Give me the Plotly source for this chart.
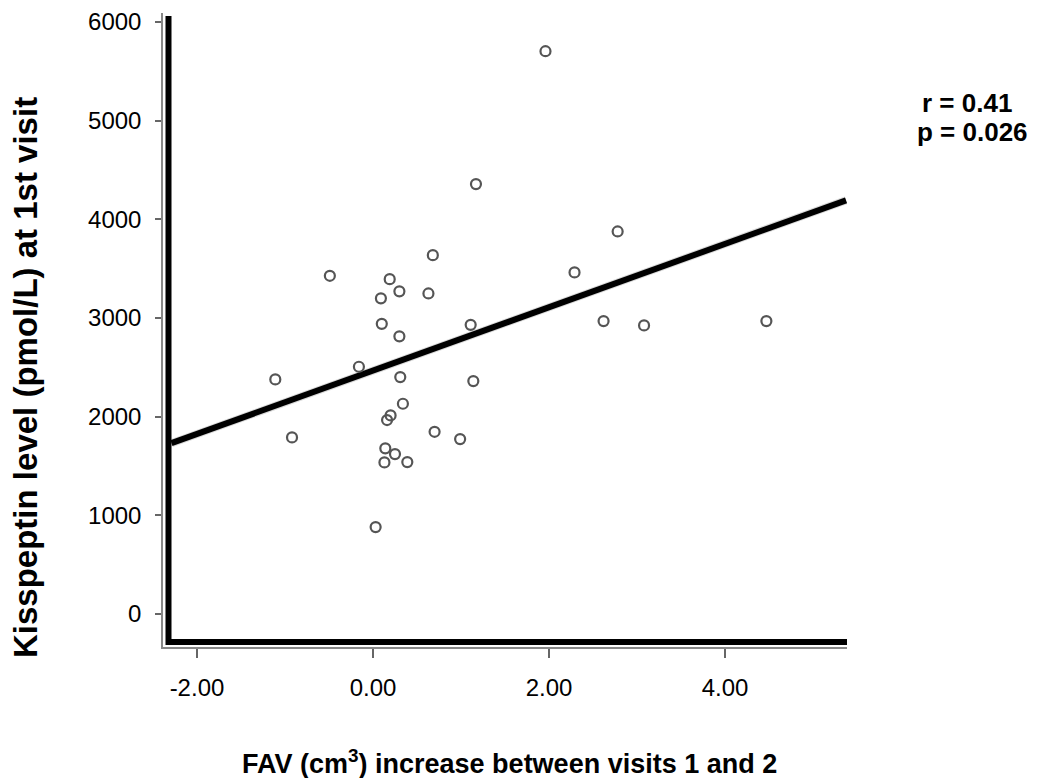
import plotly.graph_objects as go

# Data
fav_increase = [1.96, 1.17, 0.68, 2.78, -0.49, 0.19, 0.30, 0.09, 0.63, 0.10,
                0.30, 1.11, -0.16, -1.11, 0.31, 1.14, 0.34, 0.20, 0.16, -0.92,
                0.70, 0.99, 0.14, 0.25, 0.13, 0.39, 0.03, 2.29, 2.62, 3.08, 4.47]
kisspeptin = [5704, 4357, 3637, 3877, 3428, 3394, 3270, 3199, 3249, 2941,
              2814, 2931, 2506, 2378, 2401, 2361, 2131, 2013, 1966, 1790,
              1847, 1773, 1679, 1621, 1537, 1540, 881, 3462, 2969, 2925, 2969]

fit_intercept = 2467
fit_slope = 321
fit_x = [-2.29, 5.375]
fit_y = [fit_intercept + fit_slope * v for v in fit_x]

x_tickvals = [-2, 0, 2, 4]
x_ticktext = ["-2.00", "0.00", "2.00", "4.00"]
y_tickvals = [0, 1000, 2000, 3000, 4000, 5000, 6000]
y_ticktext = ["0", "1000", "2000", "3000", "4000", "5000", "6000"]

stats_r = "r = 0.41"
stats_p = "p = 0.026"
x_title = "FAV (cm<sup>3</sup>) increase between visits 1 and 2"
y_title = "Kisspeptin level (pmol/L) at 1st visit"

FONT = "Liberation Sans, Arial, Helvetica, sans-serif"

# page pixels of the plot area (page has an 8px body margin)
PL, PR, PT, PB = 163, 847, 13, 647
PW, PH = PR - PL, PB - PT


def px(xp):
    return (xp - PL) / PW


def py(yp):
    return (PB - yp) / PH


fig = go.Figure()

fig.add_trace(go.Scatter(x=fit_x, y=fit_y, mode="lines",
                         line=dict(color="rgba(0,0,0,0.15)", width=8),
                         hoverinfo="skip", showlegend=False))
fig.add_trace(go.Scatter(x=fit_x, y=fit_y, mode="lines",
                         line=dict(color="black", width=6),
                         hoverinfo="skip", showlegend=False))
fig.add_trace(go.Scatter(x=fav_increase, y=kisspeptin, mode="markers",
                         marker=dict(symbol="circle-open", size=10,
                                     color="#555555", line=dict(width=2.2)),
                         showlegend=False))

fig.update_layout(
    width=1034, height=770,
    margin=dict(l=PL - 8, r=1042 - PR, t=PT - 8, b=778 - PB, autoexpand=False),
    paper_bgcolor="white", plot_bgcolor="white",
    font=dict(family=FONT, color="black"),
    xaxis=dict(range=[-2.386, 5.386], tickvals=x_tickvals, ticktext=x_ticktext,
               showgrid=False, zeroline=False, showline=True, linecolor="#888888",
               linewidth=1.5, ticks="outside", ticklen=9, tickcolor="#666666",
               tickwidth=2, tickfont=dict(size=24, family=FONT, color="black"),
               ticklabelstandoff=9, ticklabeloverflow="allow", automargin=False),
    yaxis=dict(range=[-334, 6091], tickvals=y_tickvals, ticktext=y_ticktext,
               showgrid=False, zeroline=False, showline=True, linecolor="#888888",
               linewidth=1.5, ticks="outside", ticklen=6, tickcolor="#666666",
               tickwidth=2, tickfont=dict(size=24, family=FONT, color="black"),
               ticklabelstandoff=9, ticklabeloverflow="allow", automargin=False),
    shapes=[
        dict(type="line", xref="paper", yref="paper", x0=px(168.5), x1=px(168.5),
             y0=py(645), y1=py(16), line=dict(color="black", width=6)),
        dict(type="line", xref="paper", yref="paper", x0=px(166), x1=1.0,
             y0=py(642), y1=py(642), line=dict(color="black", width=6)),
    ],
    annotations=[
        dict(text=stats_r, xref="paper", yref="paper", x=px(967), y=py(103),
             xanchor="center", yanchor="middle", showarrow=False,
             font=dict(size=26, family=FONT, color="black", weight="bold")),
        dict(text=stats_p, xref="paper", yref="paper", x=px(973), y=py(132),
             xanchor="center", yanchor="middle", showarrow=False,
             font=dict(size=26, family=FONT, color="black", weight="bold")),
        dict(text=x_title, xref="paper", yref="paper", x=px(509), y=py(762),
             xanchor="center", yanchor="middle", showarrow=False,
             font=dict(size=27, family=FONT, color="black", weight="bold")),
        dict(text=y_title, xref="paper", yref="paper", x=px(25), y=py(378),
             xanchor="center", yanchor="middle", textangle=-90, showarrow=False,
             font=dict(size=33, family=FONT, color="black", weight="bold")),
    ],
)

fig.write_html("out.html")
